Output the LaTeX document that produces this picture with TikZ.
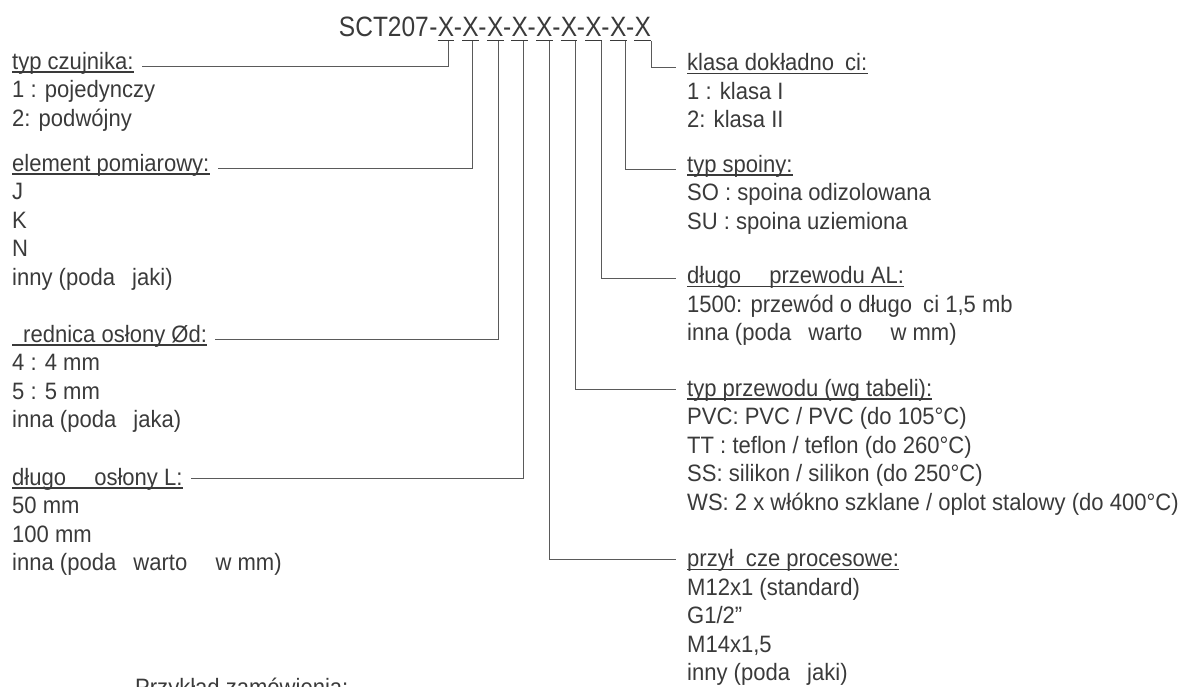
\documentclass[tikz,border=0pt]{standalone}
\usepackage{fontspec}
\setmainfont{Liberation Sans}[FakeStretch=0.93]
\newfontfamily\codefont{Liberation Sans}[FakeStretch=0.875]
\usepackage{tikz}
\usetikzlibrary{positioning,calc}
\definecolor{ink}{HTML}{3A3A3A}
\definecolor{wire}{HTML}{5A5A5A}

\begin{document}
\begin{tikzpicture}[x=1pt,y=-1pt,
    txt/.style={inner sep=0pt, anchor=base west, text=ink, font=\fontsize{23.7pt}{28.5pt}\selectfont},
    code/.style={inner sep=0pt, anchor=base, text=ink, font=\codefont\fontsize{28pt}{30pt}\selectfont},
    conn/.style={draw=wire, line width=0.9pt},
    uline/.style={draw=ink, line width=1.6pt}]
    \clip (0,0) rectangle (1181,686);

    % Order code
    \foreach \i in {1,...,9} {
        \node[code] (x\i) at ({446+24.6*(\i-1)},36.5) {X};
        \node[code, anchor=base east] (d\i) at (x\i.base west) {-};
        \draw[uline] ([yshift=-4pt]x\i.base west) -- ([yshift=-4pt]x\i.base east);
    }
    \node[code, anchor=base east] (sct) at (d1.base west) {SCT207};
    \foreach \xp [count=\i] in {448,472,498,523,549,575,601,625,651}
        \coordinate (p\i) at (\xp,41);

    % Left side
    \node[txt] (czuj) at (12,69) {typ czujnika:};
    \foreach \t [count=\i] in {{1 : pojedynczy},{2: podwójny}}
        \node[txt] (czuj\i) at (12,{69+28.5*\i}) {\t};

    \node[txt] (elem) at (12,171) {element pomiarowy:};
    \foreach \t [count=\i] in {J,K,N,{inny (poda\phantom{ć} jaki)}}
        \node[txt] (elem\i) at (12,{171+28.5*\i}) {\t};

    \node[txt] (sred) at (12,342) {\phantom{ś}rednica osłony Ød:};
    \foreach \t [count=\i] in {{4 : 4 mm},{5 : 5 mm},{inna (poda\phantom{ć} jaka)}}
        \node[txt] (sred\i) at (12,{342+28.5*\i}) {\t};

    \node[txt] (dlos) at (12,485) {długo\phantom{ść} osłony L:};
    \foreach \t [count=\i] in {{50 mm},{100 mm},{inna (poda\phantom{ć} warto\phantom{ść} w mm)}}
        \node[txt] (dlos\i) at (12,{485+28.5*\i}) {\t};

    \node[txt] (przyk) at (135,695) {Przykład zamówienia:};

    % Right side
    \node[txt] (klasa) at (687,70.5) {klasa dokładno\phantom{ś}ci:};
    \foreach \t [count=\i] in {{1 : klasa I},{2: klasa II}}
        \node[txt] (klasa\i) at (687,{70.5+28.5*\i}) {\t};

    \node[txt] (spoina) at (687,172) {typ spoiny:};
    \foreach \t [count=\i] in {{SO : spoina odizolowana},{SU : spoina uziemiona}}
        \node[txt] (spoina\i) at (687,{172+28.5*\i}) {\t};

    \node[txt] (dlprz) at (687,283.5) {długo\phantom{ść} przewodu AL:};
    \foreach \t [count=\i] in {{1500: przewód o długo\phantom{ś}ci 1,5 mb},{inna (poda\phantom{ć} warto\phantom{ść} w mm)}}
        \node[txt] (dlprz\i) at (687,{283.5+28.5*\i}) {\t};

    \node[txt] (typprz) at (687,396) {typ przewodu (wg tabeli):};
    \foreach \t [count=\i] in {{PVC: PVC / PVC (do 105°C)},{TT : teflon / teflon (do 260°C)},
            {SS: silikon / silikon (do 250°C)},{WS: 2 x włókno szklane / oplot stalowy (do 400°C)}}
        \node[txt] (typprz\i) at (687,{396+28.5*\i}) {\t};

    \node[txt] (przyl) at (687,566.5) {przył\phantom{ą}cze procesowe:};
    \foreach \t [count=\i] in {{M12x1 (standard)},{G1/2\symbol{34}},{M14x1,5},{inny (poda\phantom{ć} jaki)}}
        \node[txt] (przyl\i) at (687,{566.5+28.5*\i}) {\t};

    % Underlined headings
    \foreach \h in {czuj,elem,sred,dlos,klasa,spoina,dlprz,typprz,przyl}
        \draw[uline] ([yshift=-3pt]\h.base west) -- ([yshift=-3pt]\h.base east);

    % Connectors
    \draw[conn, shorten >=8pt] (p1) |- (czuj.mid east);
    \draw[conn, shorten >=8pt] (p2) |- (elem.mid east);
    \draw[conn, shorten >=8pt] (p3) |- (sred.mid east);
    \draw[conn, shorten >=8pt] (p4) |- ([yshift=4pt]dlos.mid east);
    \draw[conn, shorten >=11pt] (p5) |- ([yshift=4pt]przyl.mid west);
    \draw[conn, shorten >=11pt] (p6) |- ([yshift=4pt]typprz.mid west);
    \draw[conn, shorten >=11pt] (p7) |- ([yshift=2pt]dlprz.mid west);
    \draw[conn, shorten >=11pt] (p8) |- (spoina.mid west);
    \draw[conn, shorten >=11pt] (p9) |- (klasa.mid west);
\end{tikzpicture}
\end{document}
